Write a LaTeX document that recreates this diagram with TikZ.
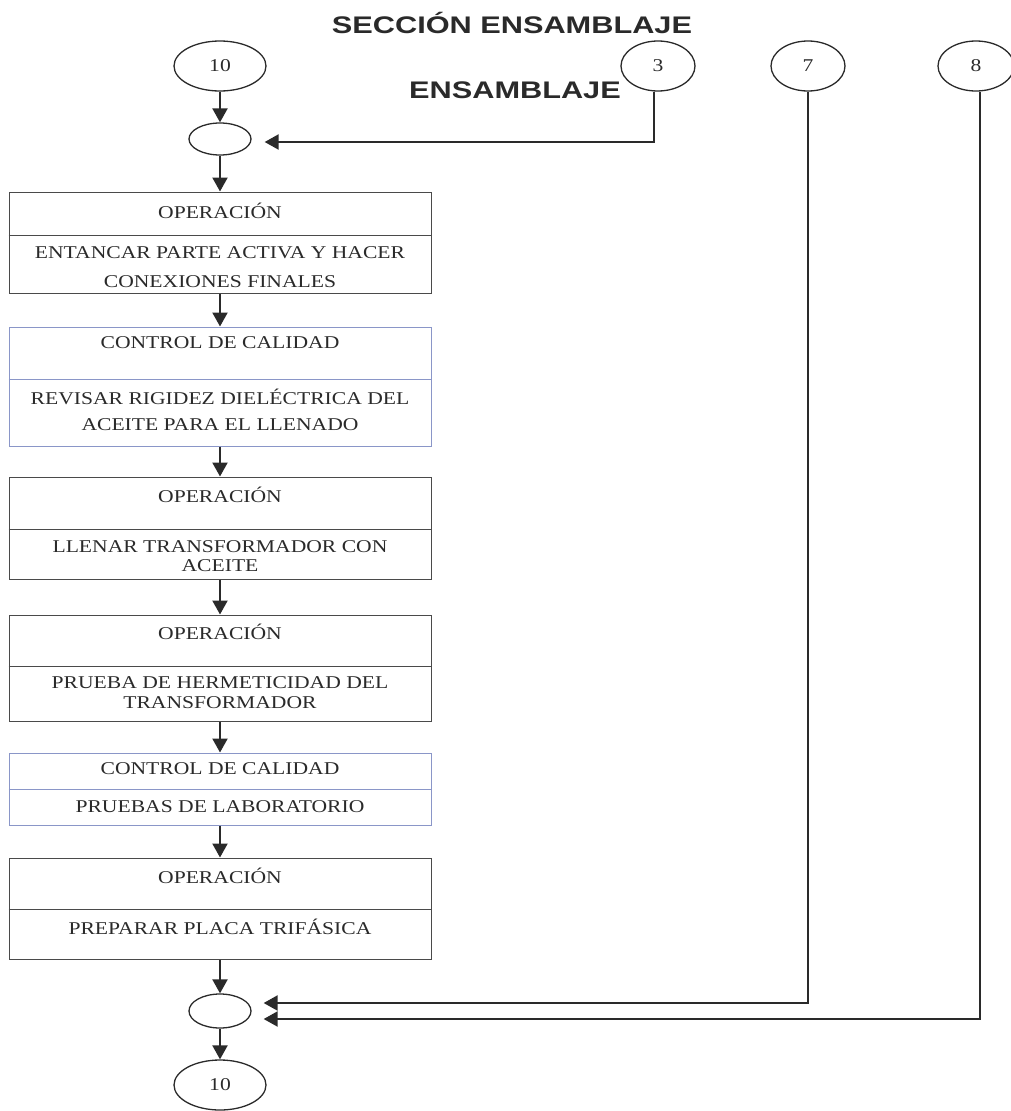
\documentclass[tikz,border=0pt]{standalone}
\usepackage{fontspec}
\setmainfont{Liberation Serif}
\newfontfamily\titlefont[FakeStretch=1.28]{Liberation Sans}
\newfontfamily\boxfont[FakeStretch=1.2]{Liberation Serif}
\usetikzlibrary{shapes.geometric,arrows.meta}
\definecolor{ink}{HTML}{2A2A2A}
\definecolor{qcblue}{HTML}{8A96C8}
\tikzset{
  arr/.style={line width=2.2pt, draw=ink, -{Triangle[width=15pt,length=14pt]}},
  opbox/.style={draw=ink!85, line width=1pt, minimum width=422pt, inner sep=0pt},
  qcbox/.style={opbox, draw=qcblue},
  opline/.style={draw=ink!85, line width=1pt},
  qcline/.style={draw=qcblue, line width=1pt},
  bt/.style={font=\boxfont\fontsize{18}{20}\selectfont, text=ink, inner sep=0pt},
  ttl/.style={font=\titlefont\bfseries\fontsize{24}{26}\selectfont, text=ink, inner sep=0pt},
  circ/.style={ellipse, draw=ink, line width=1.3pt, inner sep=0pt, font=\boxfont\fontsize{18}{20}\selectfont, text=ink},
}
\begin{document}
\begin{tikzpicture}[x=1pt,y=-1pt]
\useasboundingbox (0,0) rectangle (1011,1111);
% titles
\node[ttl] (title) at (512,23) {SECCIÓN ENSAMBLAJE};
\node[ttl] (sub) at (515,90) {ENSAMBLAJE};
% connector circles
\node[circ, minimum width=92pt, minimum height=50pt] (e10) at (220,66) {10};
\node[circ, minimum width=74pt, minimum height=50pt] (e3) at (658,66) {3};
\node[circ, minimum width=74pt, minimum height=50pt] (e7) at (808,66) {7};
\node[circ, minimum width=76pt, minimum height=50pt] (e8) at (976,66) {8};
\node[circ, minimum width=62pt, minimum height=32pt] (m1) at (220,139) {};
\node[circ, minimum width=62pt, minimum height=34pt] (m2) at (220,1011) {};
\node[circ, minimum width=92pt, minimum height=50pt] (e10b) at (220,1085) {10};
% boxes
\node[opbox, minimum height=101pt] (b1) at (220,242.5) {};
\draw[opline] (b1.west |- 0,235) -- (b1.east |- 0,235);
\node[bt] (b1a) at (220,211) {OPERACIÓN};
\node[bt] (b1b) at (220,253) {ENTANCAR PARTE ACTIVA Y HACER};
\node[bt] (b1c) at (220,282) {CONEXIONES FINALES};

\node[qcbox, minimum height=119pt] (b2) at (220,386.5) {};
\draw[qcline] (b2.west |- 0,379) -- (b2.east |- 0,379);
\node[bt] (b2a) at (220,343) {CONTROL DE CALIDAD};
\node[bt] (b2b) at (220,397) {REVISAR RIGIDEZ DIELÉCTRICA DEL};
\node[bt] (b2c) at (220,425) {ACEITE PARA EL LLENADO};

\node[opbox, minimum height=102pt] (b3) at (220,528) {};
\draw[opline] (b3.west |- 0,529) -- (b3.east |- 0,529);
\node[bt] (b3a) at (220,495) {OPERACIÓN};
\node[bt] (b3b) at (220,547) {LLENAR TRANSFORMADOR CON};
\node[bt] (b3c) at (220,566) {ACEITE};

\node[opbox, minimum height=106pt] (b4) at (220,668) {};
\draw[opline] (b4.west |- 0,666) -- (b4.east |- 0,666);
\node[bt] (b4a) at (220,632) {OPERACIÓN};
\node[bt] (b4b) at (220,683) {PRUEBA DE HERMETICIDAD DEL};
\node[bt] (b4c) at (220,703) {TRANSFORMADOR};

\node[qcbox, minimum height=72pt] (b5) at (220,789) {};
\draw[qcline] (b5.west |- 0,789) -- (b5.east |- 0,789);
\node[bt] (b5a) at (220,769) {CONTROL DE CALIDAD};
\node[bt] (b5b) at (220,807) {PRUEBAS DE LABORATORIO};

\node[opbox, minimum height=101pt] (b6) at (220,908.5) {};
\draw[opline] (b6.west |- 0,909) -- (b6.east |- 0,909);
\node[bt] (b6a) at (220,876) {OPERACIÓN};
\node[bt] (b6b) at (220,927) {PREPARAR PLACA TRIFÁSICA};
% arrows
\draw[arr] (e10) -- (m1);
\draw[arr] (m1) -- (b1);
\draw[arr] (b1) -- (b2);
\draw[arr] (b2) -- (b3);
\draw[arr] (b3) -- (b4);
\draw[arr] (b4) -- (b5);
\draw[arr] (b5) -- (b6);
\draw[arr] (b6) -- (m2);
\draw[arr] (m2) -- (e10b);
\draw[arr, shorten >=13pt] (e3.south -| 654,0) |- ([yshift=-3pt]m1.east);
\draw[arr, shorten >=12pt] (e7.south) |- ([yshift=8pt]m2.east);
\draw[arr, shorten >=12pt] (e8.south -| 980,0) |- ([yshift=-8pt]m2.east);
\end{tikzpicture}
\end{document}
